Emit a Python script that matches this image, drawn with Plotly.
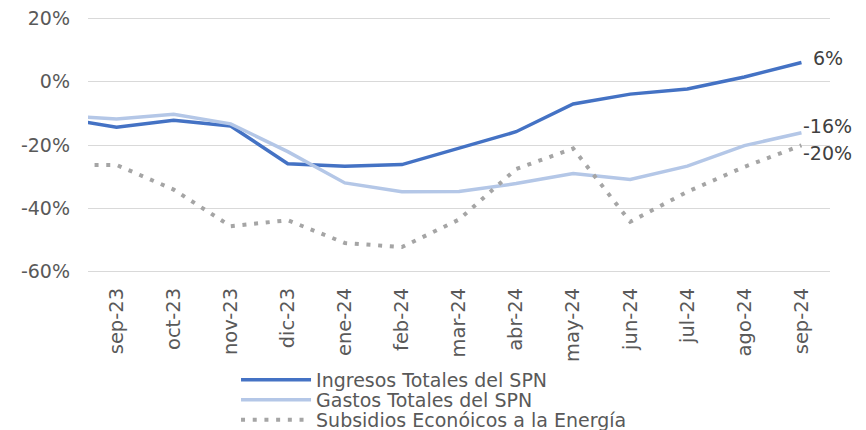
import plotly.graph_objects as go

categories = ["ago-23", "sep-23", "oct-23", "nov-23", "dic-23", "ene-24", "feb-24",
              "mar-24", "abr-24", "may-24", "jun-24", "jul-24", "ago-24", "sep-24"]
ingresos = [-11.4, -14.4, -12.2, -14.0, -25.9, -26.7, -26.2, -21.1, -15.8, -7.0, -3.9, -2.3, 1.5, 6.1]
gastos = [-10.6, -11.8, -10.3, -13.3, -22.1, -32.0, -34.8, -34.7, -32.2, -29.0, -30.9, -26.7, -20.2, -16.1]
subsidios = [-26.3, -26.3, -34.1, -45.7, -43.8, -51.0, -52.3, -43.6, -27.6, -21.1, -44.3, -34.8, -26.9, -20.1]
names = ["Ingresos Totales del SPN", "Gastos Totales del SPN", "Subsidios Econóicos a la Energía"]
y_ticks = [20, 0, -20, -40, -60]

FONT = "DejaVu Sans"
fig = go.Figure()
fig.add_trace(go.Scatter(x=categories, y=ingresos, name=names[0], mode="lines", legend="legend",
                         line=dict(color="#4472C4", width=3.5)))
fig.add_trace(go.Scatter(x=categories, y=gastos, name=names[1], mode="lines", legend="legend2",
                         line=dict(color="#B4C7E7", width=3.5)))
fig.add_trace(go.Scatter(x=categories, y=subsidios, name=names[2], mode="lines", legend="legend3",
                         line=dict(color="#A5A5A5", width=4, dash="4px,7.7px")))

label_shifts = [(10, 5), (0, 7), (0, -8)]
for vals, (xs, ys) in zip([ingresos, gastos, subsidios], label_shifts):
    fig.add_annotation(x=categories[-1], y=vals[-1], text=f"{round(vals[-1]):d}%",
                       showarrow=False, xanchor="left", yanchor="middle",
                       xshift=xs, yshift=ys,
                       font=dict(family=FONT, size=19, color="#404040"))

# legend rows centred at page y = 380, 400, 420; plot area spans page y 17..273
def leg(y):
    return dict(orientation="v", x=0.1995, y=y, xanchor="left", yanchor="middle",
                font=dict(family=FONT, size=19, color="#595959"),
                itemwidth=70, bgcolor="rgba(0,0,0,0)")

fig.update_layout(
    width=858, height=422,
    margin=dict(l=80, r=36, t=9, b=157, autoexpand=False),
    paper_bgcolor="white", plot_bgcolor="white",
    showlegend=True,
    legend=leg((273 - 380) / 256), legend2=leg((273 - 400) / 256), legend3=leg((273 - 420) / 256),
    xaxis=dict(type="category", range=[0.5, 13.5], showgrid=False, showline=False,
               zeroline=False, tickangle=-90, ticks="", automargin=False,
               ticklabelstandoff=10, ticklabeloverflow="allow",
               tickfont=dict(family=FONT, size=19.5, color="#595959")),
    yaxis=dict(range=[-60.5, 20.5], tickvals=y_ticks, ticktext=[f"{v}%" for v in y_ticks],
               showgrid=True, gridcolor="#D9D9D9", gridwidth=1.3, zeroline=False,
               showline=False, ticks="", ticklabelstandoff=17, automargin=False,
               ticklabeloverflow="allow",
               tickfont=dict(family=FONT, size=19, color="#595959")),
)
fig.write_html("out.html")
